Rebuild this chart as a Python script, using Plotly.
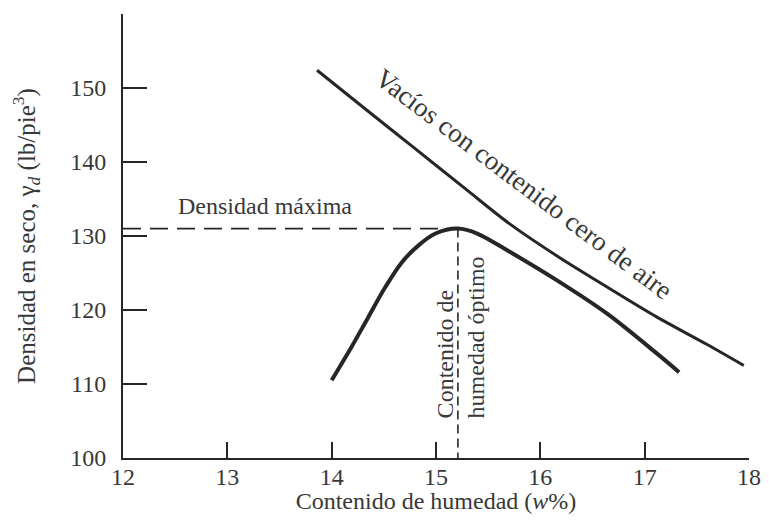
import plotly.graph_objects as go

# Data
w_comp = [14.0, 14.19, 14.35, 14.51, 14.67, 14.83, 14.99, 15.21, 15.40, 15.69, 16.16, 16.64, 17.11, 17.33]
gd_comp = [110.5, 115.0, 119.0, 123.0, 126.4, 128.7, 130.3, 131.0, 130.3, 128.0, 124.0, 119.5, 114.2, 111.6]

w_zav = [13.86, 14.32, 14.80, 15.28, 15.71, 16.16, 16.64, 17.11, 17.59, 17.95]
gd_zav = [152.4, 147.2, 141.8, 136.4, 131.6, 127.3, 123.1, 119.1, 115.4, 112.5]

w_opt = 15.21
gd_max = 131.0

x_ticks = [12, 13, 14, 15, 16, 17, 18]
x_ticktext = ["12", "13", "14", "15", "16", "17", "18"]
y_ticks = [100, 110, 120, 130, 140, 150]
y_ticktext = ["100", "110", "120", "130", "140", "150"]
y_cap_tick = [160]

x_range = [12, 18]
y_range = [100, 160]

INK = "#262626"
TXT = "#383838"
FONT = "Liberation Serif"

fig = go.Figure()

# dashed guide lines to maximum density / optimum moisture
fig.add_trace(go.Scatter(x=[x_range[0], w_opt], y=[gd_max, gd_max], mode="lines",
                         line=dict(color=INK, width=1.6, dash="18px,9px"),
                         hoverinfo="skip", showlegend=False))
fig.add_trace(go.Scatter(x=[w_opt, w_opt], y=[gd_max, y_range[0]], mode="lines",
                         line=dict(color=INK, width=1.6, dash="9px,5px"),
                         hoverinfo="skip", showlegend=False))

# zero air voids curve
fig.add_trace(go.Scatter(x=w_zav, y=gd_zav, mode="lines",
                         line=dict(color=INK, width=3, shape="spline", smoothing=0.9),
                         showlegend=False))
# compaction curve
fig.add_trace(go.Scatter(x=w_comp, y=gd_comp, mode="lines",
                         line=dict(color=INK, width=4, shape="spline", smoothing=0.9),
                         showlegend=False))

fig.add_annotation(x=13.36, y=134.0, xref="x", yref="y", text="Densidad máxima",
                   showarrow=False, font=dict(family=FONT, size=24, color=TXT))
fig.add_annotation(x=15.84, y=137.0, xref="x", yref="y",
                   text="Vacíos con contenido cero de aire", textangle=37,
                   showarrow=False, font=dict(family=FONT, size=27, color=TXT))
fig.add_annotation(x=15.23, y=116.3, xref="x", yref="y",
                   text="Contenido de<br>humedad óptimo", textangle=-90, align="left",
                   showarrow=False, font=dict(family=FONT, size=24, color=TXT))

# the page body adds an 8px margin; the figure is sized so the page fits the window exactly
fig.update_layout(
    width=753, height=506,
    margin=dict(l=115, r=12, t=6, b=56),
    paper_bgcolor="white", plot_bgcolor="white",
    font=dict(family=FONT, color=TXT, size=24),
    showlegend=False,
)
fig.update_xaxes(range=x_range, tickvals=x_ticks, ticktext=x_ticktext, automargin=False,
                 showgrid=False, zeroline=False, showline=True, linecolor=INK, linewidth=2,
                 ticks="inside", ticklen=16, tickwidth=2, tickcolor=INK,
                 ticklabelstandoff=-4,
                 tickfont=dict(family=FONT, size=24, color=TXT),
                 title=dict(text="Contenido de humedad (<i>w</i>%)", standoff=15,
                            font=dict(family=FONT, size=24, color=TXT)))
fig.update_yaxes(range=y_range, tickvals=y_ticks, ticktext=y_ticktext, automargin=False,
                 showgrid=False, zeroline=False, showline=True, linecolor=INK, linewidth=2,
                 ticks="inside", ticklen=24, tickwidth=2, tickcolor=INK,
                 ticklabelstandoff=10,
                 minor=dict(tickvals=y_cap_tick, ticks="inside", ticklen=20,
                            tickwidth=2, tickcolor=INK, showgrid=False),
                 tickfont=dict(family=FONT, size=24, color=TXT),
                 title=dict(text="Densidad en seco, γ<sub><i>d</i></sub> (lb/pie<sup>3</sup>)",
                            standoff=32, font=dict(family=FONT, size=25, color=TXT)))

fig.write_html("out.html")
